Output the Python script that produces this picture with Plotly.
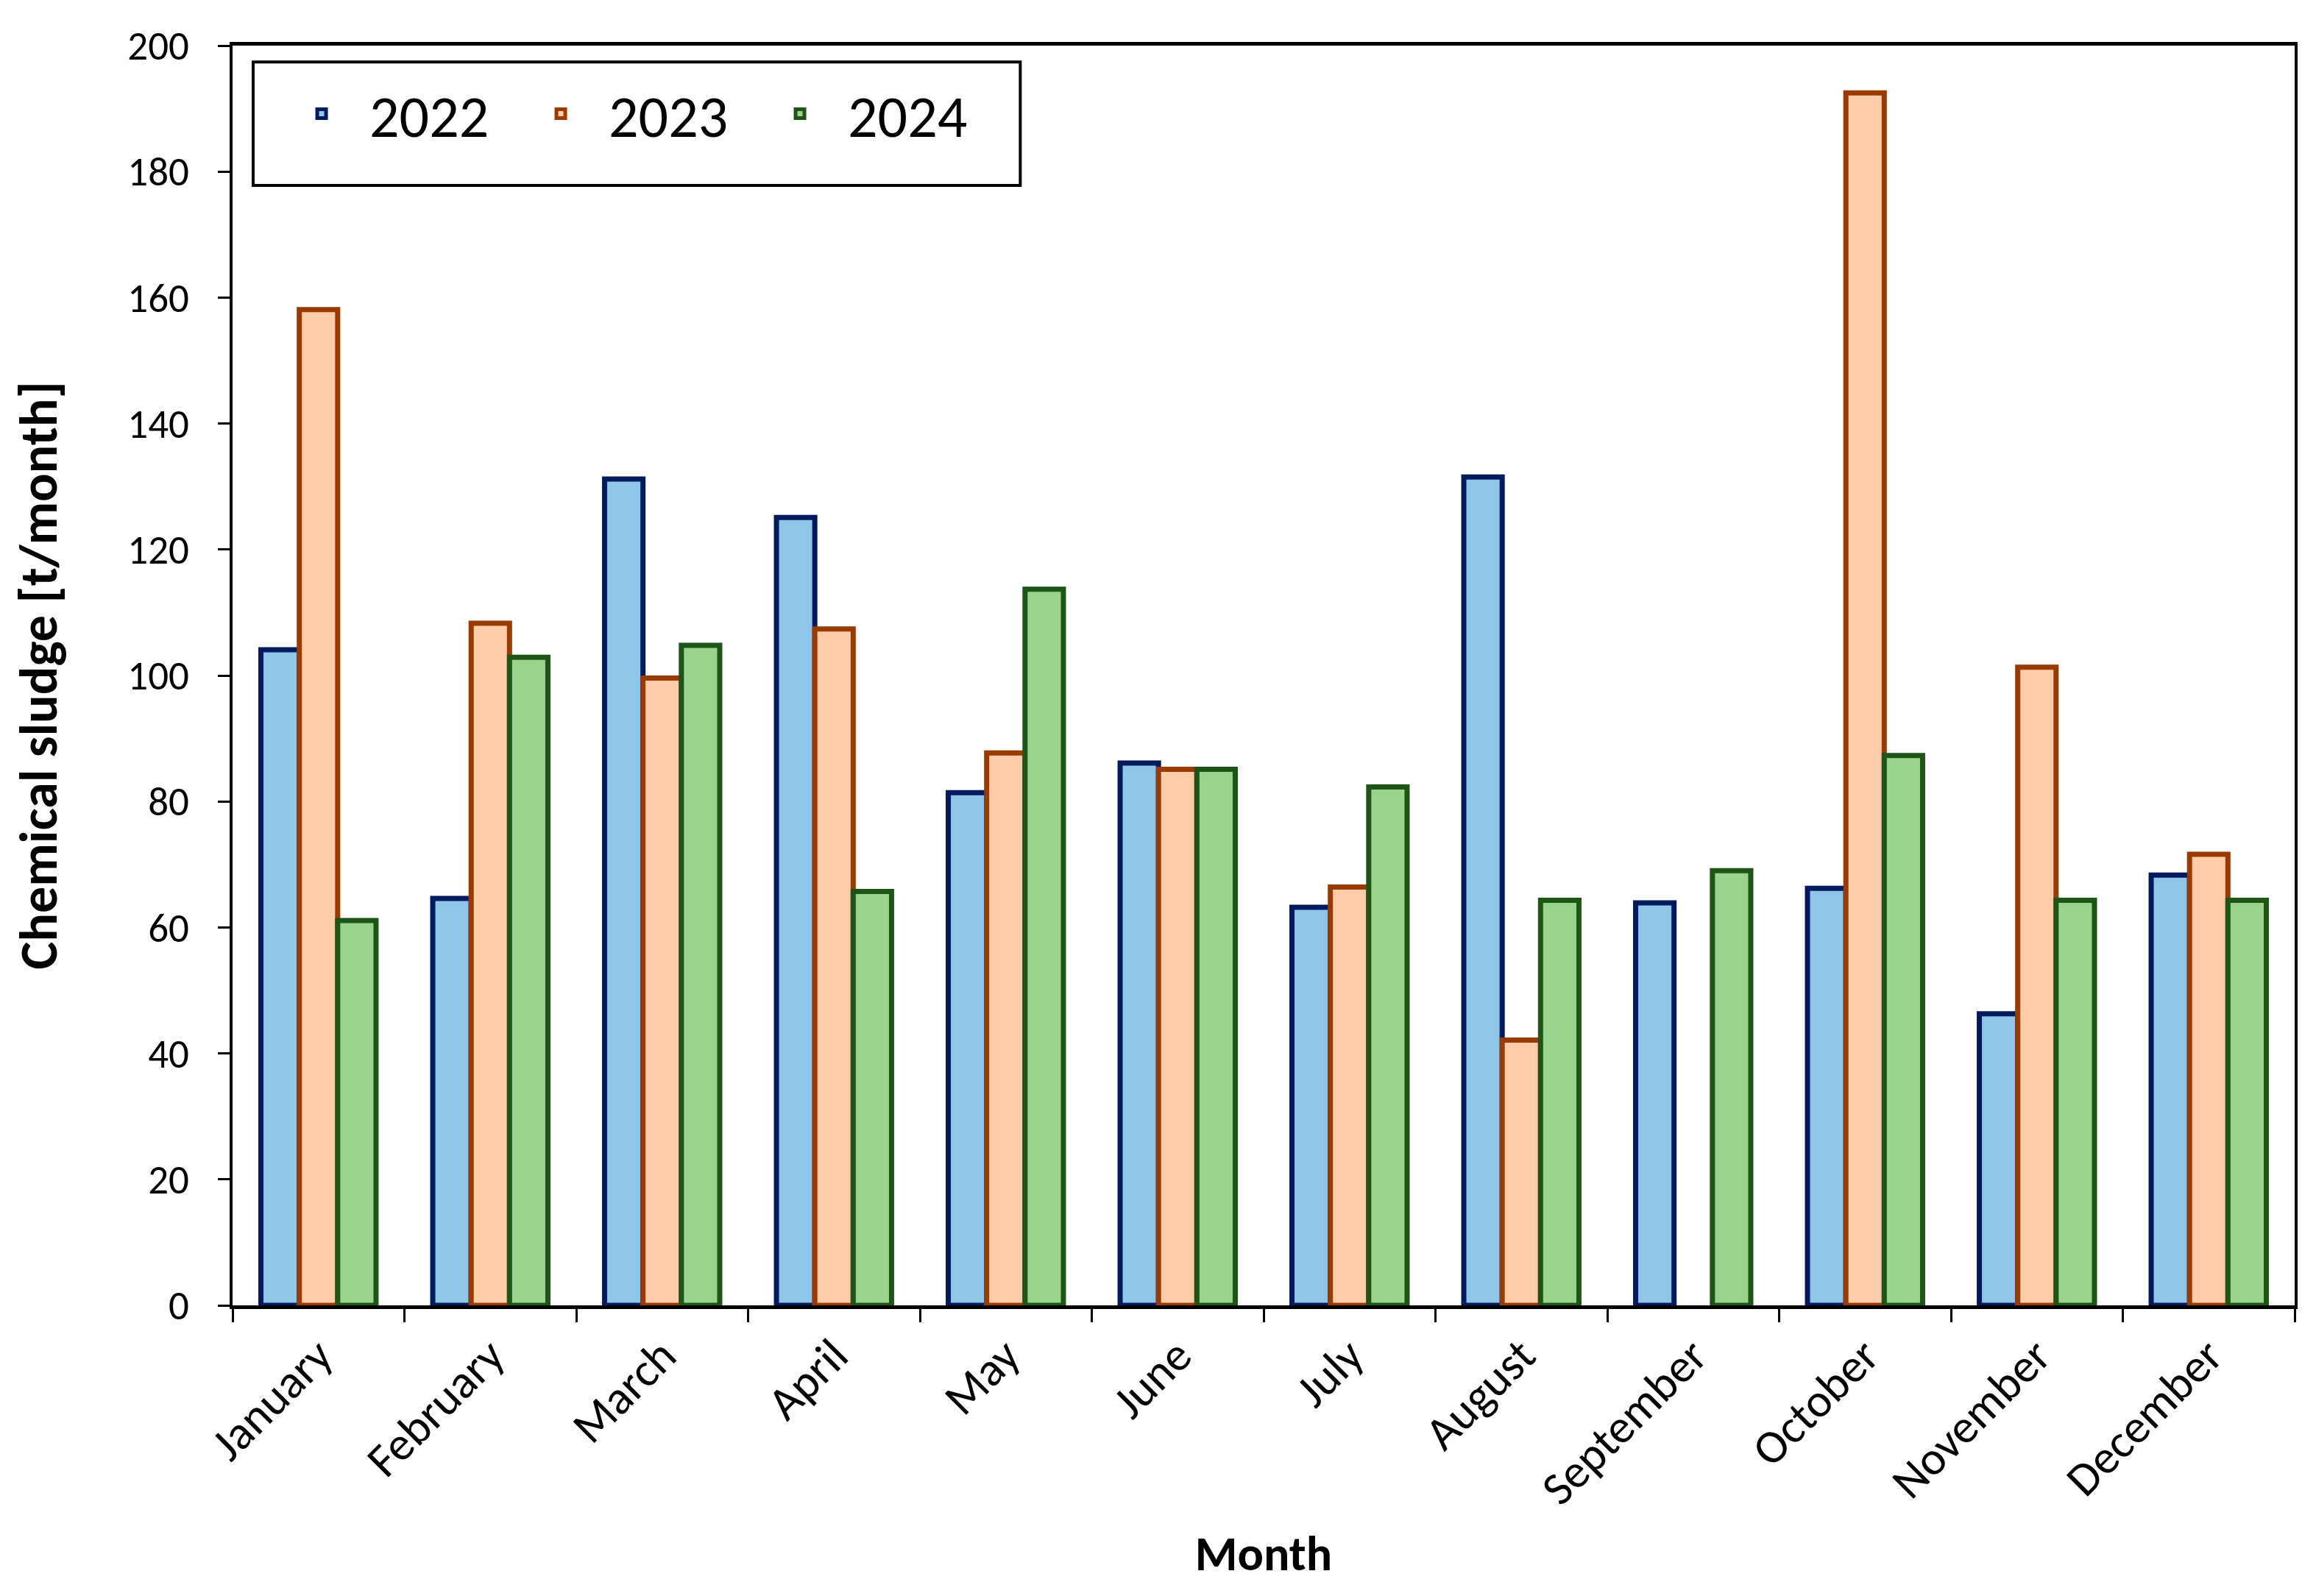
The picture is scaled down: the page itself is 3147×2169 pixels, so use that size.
import plotly.graph_objects as go

months = ["January", "February", "March", "April", "May", "June", "July",
          "August", "September", "October", "November", "December"]
years = ["2022", "2023", "2024"]
v2022 = [104.1, 64.6, 131.2, 125.1, 81.4, 86.1, 63.2, 131.5, 63.9, 66.2, 46.3, 68.3]
v2023 = [158.1, 108.3, 99.6, 107.4, 87.7, 85.1, 66.4, 42.1, None, 192.5, 101.3, 71.6]
v2024 = [61.1, 102.9, 104.8, 65.7, 113.7, 85.1, 82.3, 64.3, 69.0, 87.3, 64.3, 64.3]
y_ticks = [0, 20, 40, 60, 80, 100, 120, 140, 160, 180, 200]

fills = ["#8EC5E8", "#FFCCAA", "#99D38C"]
lines = ["#001A5E", "#993A00", "#1E5418"]

FONT = "Carlito, Lato, sans-serif"

fig = go.Figure()
for name, vals, fc, lc in zip(years, [v2022, v2023, v2024], fills, lines):
    fig.add_trace(go.Bar(
        x=months, y=vals, name=name,
        marker=dict(color=fc, line=dict(color=lc, width=7)),
    ))

fig.update_layout(
    width=3147, height=2169,
    paper_bgcolor="white", plot_bgcolor="white",
    barmode="group", bargap=0.33, bargroupgap=0.0,
    margin=dict(l=308, r=37, t=54, b=403),
    font=dict(family=FONT, size=40, color="black"),
    legend=dict(
        orientation="h", x=0.020, y=0.946, xanchor="left", yanchor="middle",
        borderwidth=0, bgcolor="rgba(0,0,0,0)",
        font=dict(family=FONT, size=80, color="black"),
        entrywidth=190, itemwidth=120, tracegroupgap=0,
    ),
    shapes=[dict(
        type="rect", xref="paper", yref="paper",
        x0=0.010, x1=0.382, y0=0.889, y1=0.987,
        line=dict(color="black", width=4), fillcolor="white", layer="below",
    )],
)
fig.update_xaxes(
    type="category", tickson="boundaries",
    ticks="outside", ticklen=18, tickwidth=3, tickcolor="black",
    showline=True, linecolor="black", linewidth=5, mirror=True,
    tickangle=-45, tickfont=dict(family=FONT, size=64, color="black"),
    title=dict(text="<b>Month</b>", font=dict(family=FONT, size=66, color="black"), standoff=30),
    showgrid=False,
)
fig.update_yaxes(
    range=[0, 200], tickvals=y_ticks,
    ticks="outside", ticklen=16, tickwidth=3, tickcolor="black",
    showline=True, linecolor="black", linewidth=4, mirror=True,
    ticklabelstandoff=28,
    tickfont=dict(family=FONT, size=55, color="black"),
    title=dict(text="<b>Chemical sludge [t/month]</b>", font=dict(family=FONT, size=72, color="black"), standoff=74),
    showgrid=False, zeroline=False,
)

fig.write_html("out.html")
